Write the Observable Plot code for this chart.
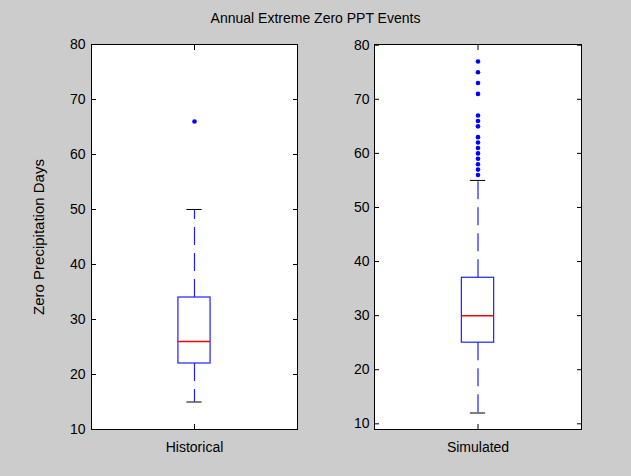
<!DOCTYPE html>
<html><head><meta charset="utf-8">
<script src="https://cdn.jsdelivr.net/npm/d3@7"></script>
<script src="https://cdn.jsdelivr.net/npm/@observablehq/plot@0.6"></script>
<style>
html,body{margin:0;padding:0;background:#cccccc;}
#fig{position:relative;width:631px;height:476px;background:#cccccc;font-family:"Liberation Sans",Arial,sans-serif;overflow:hidden}
#title{position:absolute;left:0;width:631px;top:10px;text-align:center;font-size:14px;line-height:16px;color:#000}
.panel{position:absolute;top:0}
g[aria-label="y-axis label"] text{font-size:15px}
</style></head><body>
<div id="fig"><div id="title">Annual Extreme Zero PPT Events</div></div>
<script>
const categories = ["Historical", "Simulated"];
const lowerWhisker = [15, 12];
const q1 = [22, 25];
const median = [26, 30];
const q3 = [34, 37];
const upperWhisker = [50, 55];
const outliersHistorical = [66];
const outliersSimulated = [77, 75, 73, 71, 67, 66, 65, 63, 62, 61, 60, 59, 58, 57, 56];
const yTicks = [10, 20, 30, 40, 50, 60, 70, 80];
const yDomains = [[10, 80], [8.95, 80.13]];
const yLabel = "Zero Precipitation Days";
const title = "Annual Extreme Zero PPT Events";

const BOX = 0.078, CAP = 0.037;
const panels = [
  {left: 0, width: 320, marginLeft: 91, marginRight: 23, tickPadding: 6},
  {left: 320, width: 311, marginLeft: 54, marginRight: 50, tickPadding: 5}
];
const fig = document.getElementById("fig");
document.getElementById("title").textContent = title;

categories.forEach((cat, i) => {
  const p = panels[i];
  const box = [{x: 1, lo: lowerWhisker[i], q1: q1[i], med: median[i], q3: q3[i], hi: upperWhisker[i]}];
  const outs = (i === 0 ? outliersHistorical : outliersSimulated).map(v => ({x: 1, y: v}));
  const chart = Plot.plot({
    width: p.width, height: 476,
    marginLeft: p.marginLeft, marginRight: p.marginRight, marginTop: 44, marginBottom: 47,
    style: {fontFamily: '"Liberation Sans", Arial, sans-serif', fontSize: "14px", background: "transparent", color: "black", overflow: "visible"},
    x: {type: "linear", domain: [0.5, 1.5]},
    y: {domain: yDomains[i]},
    marks: [
      Plot.rect([0], {x1: 0.5, x2: 1.5, y1: yDomains[i][0], y2: yDomains[i][1], fill: "white"}),
      Plot.ruleX(box, {x: "x", y1: "q3", y2: "hi", stroke: "#2020ff", strokeWidth: 1.2, strokeDasharray: "18,8"}),
      Plot.ruleX(box, {x: "x", y1: "q1", y2: "lo", stroke: "#2020ff", strokeWidth: 1.2, strokeDasharray: "18,8"}),
      Plot.ruleY(box, {y: "hi", x1: d => d.x - CAP, x2: d => d.x + CAP, stroke: "black"}),
      Plot.ruleY(box, {y: "lo", x1: d => d.x - CAP, x2: d => d.x + CAP, stroke: "black"}),
      Plot.rect(box, {x1: d => d.x - BOX, x2: d => d.x + BOX, y1: "q1", y2: "q3", stroke: "#2020ff", strokeWidth: 1.2, fill: "none"}),
      Plot.ruleY(box, {y: "med", x1: d => d.x - BOX, x2: d => d.x + BOX, stroke: "#ff0000", strokeWidth: 1.5}),
      Plot.dot(outs, {x: "x", y: "y", r: 2.3, fill: "blue"}),
      Plot.axisX({ticks: [1], tickFormat: () => cat, tickSize: 5, dy: -5, tickPadding: 13, label: null}),
      Plot.axisX({anchor: "top", ticks: [1], tickSize: 5, dy: 5, fill: "none", label: null}),
      Plot.axisY({ticks: yTicks, tickSize: 5, dx: 5, tickPadding: p.tickPadding,
        label: i === 0 ? yLabel : null, labelAnchor: "center", labelOffset: 58, labelArrow: "none"}),
      Plot.axisY({anchor: "right", ticks: yTicks, tickSize: 5, dx: -5, fill: "none", label: null}),
      Plot.frame({stroke: "black"})
    ]
  });
  chart.classList.add("panel");
  chart.style.left = p.left + "px";
  chart.style.position = "absolute";
  chart.style.top = "0px";
  fig.appendChild(chart);
});
</script>
</body></html>
